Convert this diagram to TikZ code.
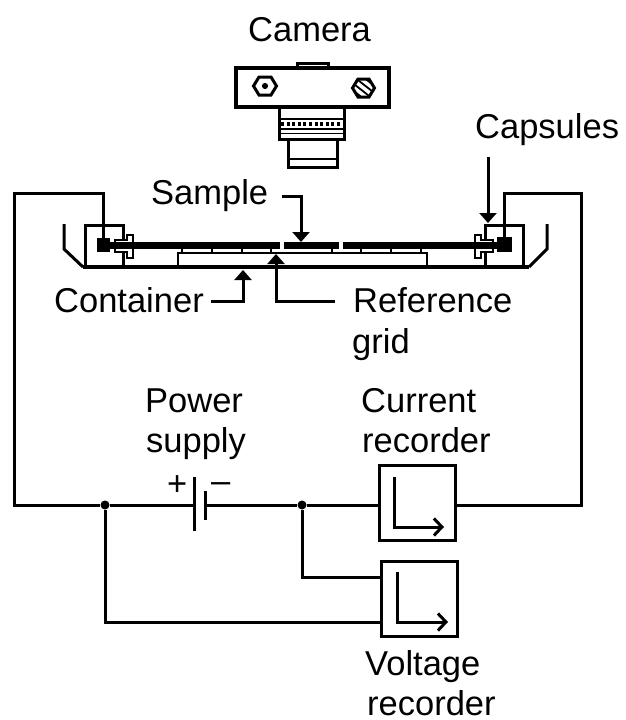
\documentclass[tikz,border=0pt]{standalone}
\usepackage{fontspec}
\setmainfont{Liberation Sans}
\usetikzlibrary{arrows.meta,calc}
\tikzset{
  wire/.style={line width=3pt,line cap=butt,line join=miter},
  thin part/.style={line width=2pt},
  thick part/.style={line width=4pt},
  lbl/.style={inner sep=0pt,font=\fontsize{34.5}{40}\selectfont,text=black,anchor=base west},
  pointer/.style={wire,-{Triangle[length=10pt,width=17pt]}},
  axis/.style={wire,-{Straight Barb[length=8pt,width=17pt,line width=3pt]}},
  dotnode/.style={circle,fill=black,inner sep=0pt,minimum size=9pt},
  recbox/.style={draw,line width=3pt,fill=white,inner sep=0pt,minimum width=76pt,minimum height=75pt}
}
\begin{document}
\begin{tikzpicture}[x=1pt,y=-1pt]
\useasboundingbox (0,0) rectangle (626,720);
% labels
\node[lbl] (lcam) at (248,41) {Camera};
\node[lbl] (lcap) at (475,138) {Capsules};
\node[lbl] (lsam) at (151,204) {Sample};
\node[lbl] (lcon) at (54,312) {Container};
\node[lbl] (lref) at (353,312) {Reference};
\node[lbl] (lgrid) at (352,353) {grid};
\node[lbl] (lpow) at (145,412) {Power};
\node[lbl] (lsup) at (146,452) {supply};
\node[lbl] (lcur) at (361,412) {Current};
\node[lbl] (lcrec) at (362,452) {recorder};
\node[lbl] (lvol) at (365,675) {Voltage};
\node[lbl] (lvrec) at (367,715) {recorder};
\node[lbl] (lplus) at (167,495) {+};
\node[lbl] (lminus) at (211,492) {–};
% camera
\draw[wire] (297,68) -- (297,63) -- (328,63) -- (328,68);
\draw[wire,line width=3.4pt] (236,68) rectangle (389,107);
\draw[wire,line width=3pt] (279,107) -- (279,139) -- (344,139) -- (344,107);
\draw[wire,line width=3pt] (288.5,139) -- (288.5,167) -- (337,167) -- (337,139);
\draw[line width=2pt] (279,119) -- (344,119);
\draw[line width=4.5pt,dash pattern=on 3pt off 2.6pt] (281,124) -- (343,124);
\draw[line width=1.6pt] (279,129) -- (344,129);
\draw[line width=1.6pt] (279,133.5) -- (344,133.5);
\draw[line width=2.4pt] (288.5,159) -- (337,159);
\draw[wire] (253.5,86) -- (259,77) -- (271,77) -- (276.5,86) -- (271,95) -- (259,95) -- cycle;
\draw[line width=2pt,fill=black] (265,86) circle (2pt);
\draw[wire] (352.5,88) -- (358,79) -- (369,79) -- (374.5,88) -- (369,97) -- (358,97) -- cycle;
\begin{scope}
\clip (352.5,88) -- (358,79) -- (369,79) -- (374.5,88) -- (369,97) -- (358,97) -- cycle;
\foreach \d in {-6,-2,2,6} \draw[line width=1.8pt] ($(363.5,88)+(\d,\d*-1)$) ++(-14,-11) -- ++(28,22);
\end{scope}
% grid
\draw[thin part] (178,267) -- (178,253) -- (427,253) -- (427,267);
\foreach \x in {182,212,242,271,332,361,391,421} \draw[line width=1.4pt] (\x,249) -- (\x,253);
% container
\draw[wire] (64,224) -- (64,249) -- (83,267);
\draw[wire] (547,224) -- (547,249) -- (529,267);
\draw[thick part] (83,267) -- (529,267);
\draw[wire] (85,267) -- (85,225) -- (123,225) -- (123,267);
\draw[wire] (485,267) -- (485,225) -- (523,225) -- (523,267);
% screws
\draw[line width=1.5pt,fill=white] (115,240) -- (127,240) -- (127,235) -- (133,235) -- (133,258) -- (127,258) -- (127,252) -- (115,252) -- cycle;
\draw[line width=1.5pt,fill=white] (493,240) -- (481,240) -- (481,235) -- (475,235) -- (475,258) -- (481,258) -- (481,252) -- (493,252) -- cycle;
% sample
\fill (110,242) rectangle (280,249);
\fill (284,242) rectangle (339,249);
\fill (343,242) rectangle (497,249);
\fill (97,238) rectangle (110,252);
\fill (497,237) rectangle (512,252);
% pointers
\coordinate (psam0) at (282,196);
\coordinate (psam1) at (301,196);
\coordinate (psam2) at (301,242);
\draw[pointer] (psam0) -- (psam1) -- (psam2);
\coordinate (pcon0) at (211,301);
\coordinate (pcon1) at (243,301);
\coordinate (pcon2) at (243,270);
\draw[pointer] (pcon0) -- (pcon1) -- (pcon2);
\coordinate (pref0) at (335,301);
\coordinate (pref1) at (276,301);
\coordinate (pref2) at (276,254);
\draw[pointer] (pref0) -- (pref1) -- (pref2);
\coordinate (pcap0) at (488,157);
\coordinate (pcap1) at (488,223);
\draw[pointer] (pcap0) -- (pcap1);
% circuit
\node[recbox] (crec) at (417.5,503) {};
\node[recbox] (vrec) at (419.5,598.5) {};
\node[dotnode] (j1) at (105,505) {};
\node[dotnode] (j2) at (302,505) {};
\coordinate (bp) at (194,505);
\coordinate (bm) at (205,505);
\coordinate (lsq) at (103,238);
\coordinate (rsq) at (504,237);
\coordinate (cw) at ($(crec.west)+(0,2)$);
\coordinate (ce) at ($(crec.east)+(0,2)$);
\draw[wire] (lsq) -- (103,193) -- (14,193) -- (14,505) -- (j1) -- (bp);
\draw[wire] (bm) -- (j2) -- (cw);
\draw[wire] (rsq) -- (504,193) -- (581,193) -- (581,505) -- (ce);
\draw[wire] (j2) -- (302,577) -- (381,577);
\draw[wire] (j1) -- (105,622) -- (381,622);
\draw[wire] (194,477) -- (194,531);
\draw[wire] (205,491) -- (205,520);
% recorder axes
\draw[axis] (394,477) -- (394,527) -- (444,527);
\draw[axis] (397,572) -- (397,622) -- (448,622);
\end{tikzpicture}
\end{document}
